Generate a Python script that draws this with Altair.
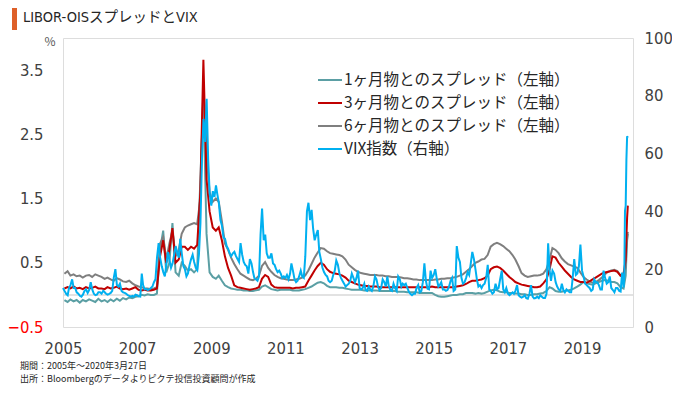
import altair as alt
import pandas as pd

SERIES = ["1ヶ月物とのスプレッド（左軸）", "3ヶ月物とのスプレッド（左軸）",
          "6ヶ月物とのスプレッド（左軸）", "VIX指数（右軸）"]
COLORS = ["#5B9FA4", "#C00000", "#7F7F7F", "#00B0F0"]

TITLE = "LIBOR-OISスプレッドとVIX"
NOTE1 = "期間：2005年～2020年3月27日"
NOTE2 = "出所：Bloombergのデータよりピクテ投信投資顧問が作成"

LEFT_TICKS = [-0.5, 0.5, 1.5, 2.5, 3.5]
RIGHT_TICKS = [0, 20, 40, 60, 80, 100]
YEAR_TICKS = list(range(2005, 2020, 2))

years = list(range(2005, 2020))
spread_dates = [f"{y}-{m:02d}-15" for y in years for m in range(1, 13)] + [
    "2020-01-15", "2020-02-14", "2020-03-06", "2020-03-13", "2020-03-20", "2020-03-27"]

# 1ヶ月物 (monthly, %)
m1 = [
    -0.08, -0.11, -0.07, -0.10, -0.08, -0.12, -0.08, -0.10, -0.07, -0.09, -0.11, -0.06,
    -0.10, -0.08, -0.11, -0.07, -0.10, -0.06, -0.09, -0.05, -0.07, -0.04, -0.05, -0.03,
    -0.02, 0.00, -0.01, 0.01, 0.00, 0.00, 0.02, 0.70, 1.00, 0.35, 0.50, 1.12,
    0.35, 0.30, 0.50, 0.45, 0.38, 0.40, 0.35, 0.40, 1.80, 3.10, 0.95, 0.35,
    0.28, 0.25, 0.30, 0.22, 0.15, 0.12, 0.10, 0.09, 0.08, 0.08, 0.07, 0.07,
    0.06, 0.06, 0.07, 0.08, 0.13, 0.15, 0.12, 0.09, 0.08, 0.07, 0.08, 0.08,
    0.08, 0.08, 0.07, 0.07, 0.07, 0.08, 0.09, 0.11, 0.13, 0.16, 0.19, 0.20,
    0.18, 0.14, 0.12, 0.12, 0.12, 0.11, 0.11, 0.10, 0.09, 0.08, 0.08, 0.08,
    0.08, 0.07, 0.07, 0.07, 0.07, 0.07, 0.06, 0.06, 0.06, 0.06, 0.06, 0.06,
    0.05, 0.05, 0.05, 0.04, 0.04, 0.04, 0.04, 0.03, 0.03, 0.03, 0.03, 0.03,
    0.00, -0.02, -0.03, -0.03, -0.02, -0.01, 0.00, 0.00, 0.01, 0.01, 0.03, 0.03,
    0.03, 0.02, 0.03, 0.02, 0.03, 0.05, 0.07, 0.08, 0.07, 0.05, 0.04, 0.04,
    0.03, 0.03, 0.02, 0.02, 0.01, 0.01, 0.00, 0.00, 0.01, 0.01, 0.02, 0.03,
    0.06, 0.12, 0.10, 0.06, 0.05, 0.05, 0.06, 0.07, 0.08, 0.10, 0.13, 0.16,
    0.20, 0.18, 0.17, 0.16, 0.18, 0.20, 0.22, 0.23, 0.22, 0.20, 0.20, 0.18,
    0.12, 0.10, 0.30, 0.60, 0.85, 0.95,
]

# 3ヶ月物 (monthly, %)
m3 = [
    0.10, 0.12, 0.10, 0.13, 0.10, 0.11, 0.09, 0.12, 0.10, 0.11, 0.13, 0.10,
    0.10, 0.09, 0.12, 0.10, 0.11, 0.13, 0.10, 0.09, 0.10, 0.08, 0.10, 0.12,
    0.08, 0.07, 0.08, 0.07, 0.07, 0.08, 0.10, 0.60, 0.85, 0.50, 0.70, 1.04,
    0.50, 0.55, 0.75, 0.75, 0.70, 0.75, 0.72, 0.78, 1.60, 3.66, 1.80, 1.30,
    1.05, 1.00, 1.05, 0.85, 0.60, 0.42, 0.30, 0.15, 0.12, 0.11, 0.10, 0.09,
    0.08, 0.09, 0.10, 0.12, 0.25, 0.31, 0.28, 0.16, 0.12, 0.11, 0.11, 0.11,
    0.11, 0.11, 0.10, 0.11, 0.11, 0.12, 0.13, 0.22, 0.30, 0.38, 0.45, 0.50,
    0.47, 0.40, 0.36, 0.34, 0.33, 0.32, 0.30, 0.27, 0.22, 0.20, 0.18, 0.16,
    0.15, 0.14, 0.14, 0.13, 0.13, 0.13, 0.12, 0.12, 0.12, 0.12, 0.12, 0.12,
    0.12, 0.12, 0.12, 0.12, 0.12, 0.12, 0.12, 0.12, 0.12, 0.12, 0.12, 0.13,
    0.12, 0.12, 0.12, 0.12, 0.12, 0.12, 0.12, 0.13, 0.14, 0.15, 0.17, 0.20,
    0.22, 0.22, 0.23, 0.24, 0.26, 0.30, 0.40, 0.43, 0.44, 0.42, 0.38, 0.33,
    0.28, 0.24, 0.20, 0.18, 0.16, 0.15, 0.14, 0.13, 0.12, 0.12, 0.13, 0.18,
    0.24, 0.40, 0.60, 0.58, 0.50, 0.44, 0.38, 0.33, 0.28, 0.24, 0.22, 0.20,
    0.20, 0.19, 0.21, 0.24, 0.27, 0.30, 0.33, 0.35, 0.36, 0.37, 0.38, 0.36,
    0.30, 0.33, 0.55, 0.90, 1.20, 1.39,
]

# 6ヶ月物 (monthly, %)
m6 = [
    0.33, 0.37, 0.30, 0.32, 0.29, 0.30, 0.27, 0.30, 0.31, 0.28, 0.32, 0.30,
    0.28, 0.25, 0.27, 0.24, 0.22, 0.26, 0.24, 0.21, 0.20, 0.22, 0.18, 0.15,
    0.13, 0.12, 0.10, 0.10, 0.09, 0.10, 0.12, 0.80, 0.90, 0.55, 0.80, 1.00,
    0.60, 0.70, 0.95, 1.05, 1.08, 1.10, 1.12, 1.10, 1.50, 3.25, 2.20, 1.60,
    1.45, 1.50, 1.45, 1.15, 0.80, 0.70, 0.58, 0.48, 0.40, 0.33, 0.30, 0.27,
    0.24, 0.23, 0.25, 0.30, 0.45, 0.51, 0.42, 0.36, 0.31, 0.28, 0.26, 0.25,
    0.24, 0.23, 0.23, 0.24, 0.25, 0.27, 0.30, 0.38, 0.48, 0.58, 0.66, 0.73,
    0.72, 0.68, 0.65, 0.64, 0.63, 0.62, 0.60, 0.55, 0.47, 0.43, 0.39, 0.36,
    0.34, 0.33, 0.32, 0.31, 0.31, 0.31, 0.30, 0.30, 0.29, 0.29, 0.28, 0.28,
    0.28, 0.27, 0.26, 0.26, 0.25, 0.24, 0.24, 0.23, 0.23, 0.23, 0.23, 0.23,
    0.24, 0.24, 0.25, 0.25, 0.26, 0.26, 0.27, 0.28, 0.30, 0.32, 0.36, 0.40,
    0.45, 0.50, 0.52, 0.55, 0.56, 0.62, 0.75, 0.79, 0.81, 0.79, 0.76, 0.72,
    0.68, 0.62, 0.55, 0.45, 0.34, 0.30, 0.28, 0.29, 0.30, 0.30, 0.31, 0.33,
    0.40, 0.55, 0.73, 0.70, 0.65, 0.57, 0.52, 0.48, 0.46, 0.44, 0.42, 0.35,
    0.28, 0.24, 0.21, 0.19, 0.20, 0.23, 0.27, 0.32, 0.36, 0.38, 0.39, 0.37,
    0.30, 0.28, 0.45, 0.70, 0.90, 0.98,
]

vix_dates = [f"{y}-{m:02d}-{d:02d}" for y in years for m in range(1, 13) for d in (1, 16)] + [
    "2020-01-02", "2020-01-16", "2020-01-31", "2020-02-14", "2020-02-21",
    "2020-02-28", "2020-03-06", "2020-03-13", "2020-03-20", "2020-03-27"]

# VIX (semi-monthly)
vix = [
    13.5, 12.5, 11.5, 11.0, 13.5, 14.5, 16.5, 13.5, 13.5, 12.0, 11.5, 10.8, 10.5, 11.2, 12.5, 13.0, 11.8, 12.8, 15.5, 13.0, 11.5, 11.0, 11.2, 12.0,
    12.0, 11.5, 12.5, 12.0, 11.5, 11.2, 11.5, 11.8, 12.5, 17.0, 20.0, 14.5, 14.0, 15.0, 12.5, 12.0, 11.8, 11.5, 11.0, 10.8, 10.5, 10.8, 10.5, 11.2,
    11.0, 10.6, 10.5, 18.5, 14.5, 13.0, 13.2, 12.8, 13.0, 13.5, 14.0, 15.5, 16.5, 24.0, 29.0, 24.0, 21.0, 19.0, 17.5, 21.5, 26.0, 23.0, 20.5, 22.0,
    25.0, 28.0, 25.5, 24.0, 30.5, 25.5, 21.0, 20.0, 17.5, 18.5, 21.5, 23.5, 25.0, 22.5, 20.5, 19.7, 25.0, 36.0, 58.0, 72.0, 64.0, 79.0, 58.0, 46.0,
    42.0, 47.0, 45.0, 49.0, 46.0, 43.0, 37.0, 35.0, 31.0, 30.5, 28.0, 27.0, 25.5, 24.5, 25.5, 26.0, 24.5, 23.5, 22.5, 29.0, 25.0, 22.5, 21.5, 21.0,
    18.5, 23.5, 22.0, 19.0, 17.0, 16.5, 16.0, 17.5, 32.0, 41.0, 30.0, 32.0, 25.5, 24.0, 24.0, 25.5, 22.0, 21.5, 20.0, 19.0, 19.5, 18.5, 17.0, 17.5,
    17.0, 18.0, 16.5, 18.5, 22.0, 19.5, 16.5, 15.5, 16.0, 17.5, 19.5, 17.5, 17.0, 24.5, 40.0, 43.0, 37.0, 40.5, 34.0, 30.0, 32.0, 33.5, 26.0, 23.5,
    20.5, 19.0, 18.0, 17.5, 16.0, 15.5, 16.0, 18.0, 19.5, 23.0, 21.5, 18.5, 17.0, 16.0, 15.0, 14.0, 14.5, 15.0, 16.0, 18.5, 17.0, 15.5, 17.0, 19.5,
    13.5, 13.0, 13.5, 15.0, 12.8, 12.5, 14.0, 13.0, 12.5, 14.0, 17.5, 16.5, 14.0, 12.8, 13.5, 16.5, 15.5, 14.0, 17.5, 14.0, 12.8, 12.5, 15.0, 13.5,
    12.5, 17.5, 16.5, 14.0, 15.0, 14.5, 15.0, 13.5, 12.2, 11.5, 11.0, 11.5, 11.5, 13.5, 14.5, 12.0, 12.5, 15.5, 22.0, 16.0, 13.2, 13.0, 19.5, 17.0,
    18.0, 20.0, 16.5, 14.0, 14.5, 15.5, 13.0, 13.0, 12.5, 12.8, 14.0, 16.0, 17.0, 12.5, 13.0, 28.0, 24.0, 22.5, 17.0, 15.0, 15.5, 17.0, 19.0, 18.0,
    22.0, 26.0, 23.5, 20.0, 16.5, 14.0, 14.5, 13.5, 14.5, 15.0, 17.0, 21.5, 13.0, 12.5, 11.5, 12.0, 15.0, 13.0, 13.5, 16.5, 19.5, 13.0, 12.0, 13.5,
    11.5, 11.0, 11.5, 12.0, 11.5, 12.5, 14.5, 11.0, 10.5, 10.2, 10.5, 11.0, 10.0, 9.8, 11.5, 14.5, 10.5, 9.9, 10.0, 10.5, 10.0, 11.0, 10.5, 10.0,
    10.0, 11.5, 29.0, 19.5, 16.0, 19.5, 18.5, 15.5, 14.0, 13.0, 12.5, 15.0, 12.8, 12.0, 13.0, 12.5, 12.0, 12.0, 17.0, 23.5, 18.0, 18.5, 21.0, 28.5,
    19.5, 17.5, 15.0, 14.5, 14.0, 13.5, 12.5, 13.0, 16.5, 15.5, 15.5, 14.5, 13.0, 13.0, 19.5, 17.0, 15.0, 15.5, 17.5, 13.5, 12.8, 12.0, 13.5, 13.5,
    12.5, 12.3, 18.8, 13.7, 17.1, 40.1, 41.9, 57.8, 66.0, 65.5,
]

# ---------------- layout ----------------
W, H = 570, 289
PAD = {"left": 55, "top": 30, "right": 39, "bottom": 58}
NUM_FONT = "DejaVu Sans Condensed, Liberation Sans Narrow, DejaVu Sans, sans-serif"
JP_FONT = "Noto Sans CJK JP"
TITLE_FONT = "Liberation Sans Narrow, DejaVu Sans Condensed, Noto Sans CJK JP"

x_scale = alt.Scale(domain=[alt.DateTime(year=2005, month=1, date=1),
                            alt.DateTime(year=2020, month=5, date=17)])
left_scale = alt.Scale(domain=[-0.5, 4.0], nice=False, zero=False)
right_scale = alt.Scale(domain=[0, 100], nice=False)
color_scale = alt.Scale(domain=SERIES, range=COLORS)

legend = alt.Legend(orient="none", legendX=254, legendY=29, title=None,
                    symbolType="stroke", symbolSize=576, symbolStrokeWidth=2,
                    labelFont=JP_FONT, labelFontSize=15.5, labelColor="#262626",
                    rowPadding=1, labelOffset=1, padding=0, labelLimit=400)

x_axis = alt.Axis(values=[alt.DateTime(year=y, month=1, date=1) for y in YEAR_TICKS],
                  format="%Y", labelFont=NUM_FONT, labelFontSize=16.5, labelColor="#404040",
                  ticks=False, domain=False, grid=False, labelPadding=13,
                  labelFlush=False, title=None)
left_axis = alt.Axis(values=LEFT_TICKS, format=".1f", orient="left",
                     labelFont=NUM_FONT, labelFontSize=16.5,
                     labelColor=alt.expr("datum.value < 0 ? '#FF0000' : '#404040'"),
                     ticks=False, domain=False, grid=False, labelPadding=20, title=None)
right_axis = alt.Axis(values=RIGHT_TICKS, format="d", orient="right",
                      labelFont=NUM_FONT, labelFontSize=16.5, labelColor="#404040",
                      ticks=False, domain=False, grid=False, labelPadding=11, title=None)


def spread_line(values, name):
    df = pd.DataFrame({"date": spread_dates, "value": values, "系列": name})
    return alt.Chart(df).mark_line(strokeWidth=2).encode(
        x=alt.X("date:T", scale=x_scale, axis=x_axis),
        y=alt.Y("value:Q", scale=left_scale, axis=left_axis),
        color=alt.Color("系列:N", scale=color_scale, legend=legend),
    )


zero_line = alt.Chart(pd.DataFrame({"v": [0.0]})).mark_rule(
    color="#D9D9D9", strokeWidth=1.5).encode(
    y=alt.Y("v:Q", scale=left_scale, axis=left_axis),
    x=alt.value(0), x2=alt.value(W))

left = alt.layer(
    zero_line,
    spread_line(m1, SERIES[0]),
    spread_line(m6, SERIES[2]),
    spread_line(m3, SERIES[1]),
)

vix_df = pd.DataFrame({"date": vix_dates, "value": vix, "系列": SERIES[3]})
right = alt.Chart(vix_df).mark_line(strokeWidth=2).encode(
    x=alt.X("date:T", scale=x_scale, axis=x_axis),
    y=alt.Y("value:Q", scale=right_scale, axis=right_axis),
    color=alt.Color("系列:N", scale=color_scale, legend=legend),
)

one = pd.DataFrame({"a": [0]})
bar = alt.Chart(one).mark_rect(color="#DE6029").encode(
    x=alt.value(-51), x2=alt.value(-46), y=alt.value(-34), y2=alt.value(-8))


def label(text, x, y, size, font, color, align="left"):
    return alt.Chart(pd.DataFrame({"t": [text]})).mark_text(
        align=align, baseline="middle", font=font, fontSize=size, color=color).encode(
        x=alt.value(x), y=alt.value(y), text="t:N")


title = label(TITLE, -40, -20, 14.5, TITLE_FONT, "#262626")
pct = label("%", -13, 4, 12, JP_FONT, "#595959", align="center")
note1 = label(NOTE1, -43, 327.5, 9, JP_FONT, "#262626")
note2 = label(NOTE2, -43, 340.5, 9, JP_FONT, "#262626")

chart = alt.layer(left, right, bar, title, pct, note1, note2).resolve_scale(
    y="independent"
).properties(
    width=W, height=H,
    autosize=alt.AutoSizeParams(type="none"),
    padding=PAD,
).configure_view(strokeWidth=0, stroke="transparent").configure(background="white")

chart.save("out.html", embed_options={"renderer": "svg", "actions": False})
